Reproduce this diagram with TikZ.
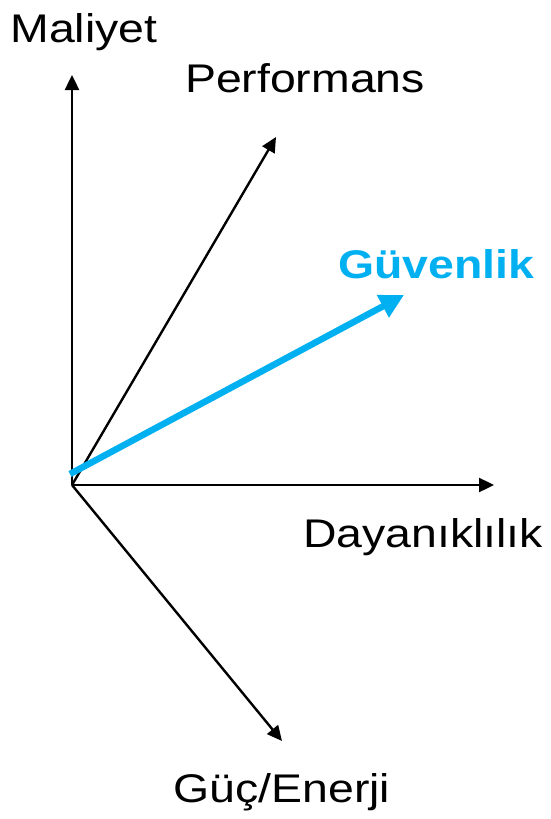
\documentclass[tikz,border=0pt]{standalone}
\usepackage{fontspec}
\setmainfont{Liberation Sans}
\usetikzlibrary{arrows.meta, positioning}
\definecolor{guvblue}{HTML}{00B0F0}
\newcommand{\widetext}[1]{\scalebox{1.16}[1]{#1}}

\begin{document}
\begin{tikzpicture}[x=1pt, y=-1pt,
    axis/.style={line width=2.4pt, -{Triangle[length=15pt, width=14pt]}},
    lbl/.style={anchor=base, inner sep=0pt, font=\fontsize{40}{40}\selectfont}]
  \useasboundingbox (0,0) rectangle (550,819);

  % origin and axis ends
  \coordinate (O) at (72,485);
  \coordinate (maliyet) at (72,75);
  \coordinate (perf) at (276,137);
  \coordinate (dayan) at (494,485);
  \coordinate (guc) at (282,741);

  % axes
  \draw[axis] (O) -- (maliyet);
  \draw[axis] (O) -- (perf);
  \draw[axis] (O) -- (dayan);
  \draw[axis] (O) -- (guc);

  % security vector
  \coordinate (gs) at (70,474);
  \coordinate (ge) at (404,295);
  \draw[guvblue, line width=6.5pt, -{Triangle[length=24pt, width=24pt]}]
    (gs) -- (ge);

  % labels
  \node[lbl] (lmal) at (84,42) {\widetext{Maliyet}};
  \node[lbl] (lperf) at (305,92) {\widetext{Performans}};
  \node[lbl, text=guvblue, font=\fontsize{40}{40}\selectfont\bfseries]
    (lguv) at (436,278) {\widetext{Güvenlik}};
  \node[lbl] (ldayan) at (423,547) {\widetext{Dayanıklılık}};
  \node[lbl] (lguc) at (282,802) {\widetext{Güç/Enerji}};
\end{tikzpicture}
\end{document}
